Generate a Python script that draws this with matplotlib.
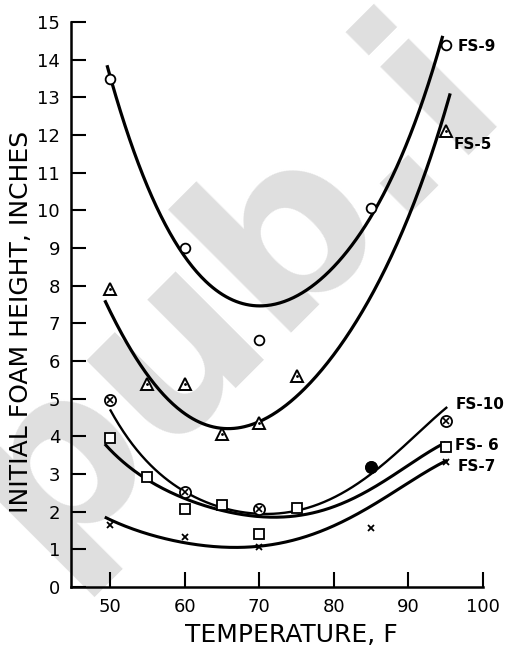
"""Initial foam height vs temperature for five foam samples (FS-5 ... FS-10)."""
import numpy as np
import matplotlib
matplotlib.use("Agg")
import matplotlib.pyplot as plt

plt.rcParams["font.family"] = ["DejaVu Sans"]

# measured points (temperature F, foam height in)
t_fs9 = [50, 60, 70, 85, 95]
h_fs9 = [13.5, 9.0, 6.55, 10.05, 14.4]
t_fs5 = [50, 55, 60, 65, 70, 75, 95]
h_fs5 = [7.9, 5.4, 5.4, 4.05, 4.35, 5.6, 12.1]
t_fs10 = [50, 60, 70, 85, 95]
h_fs10 = [4.97, 2.53, 2.07, 3.18, 4.4]
t_fs6 = [50, 55, 60, 65, 70, 75, 95]
h_fs6 = [3.95, 2.92, 2.07, 2.18, 1.41, 2.1, 3.72]
t_fs7 = [50, 60, 70, 85, 95]
h_fs7 = [1.65, 1.33, 1.06, 1.56, 3.32]

# hand-drawn trend curves
c9_t = [49.6, 50.9, 53.1, 55.4, 57.6, 59.8, 64.4, 69.7, 73.2, 77.8, 82.2, 86.6, 89.3, 91.2, 93.0, 94.6]
c9_h = [13.9, 12.9, 11.6, 10.45, 9.65, 8.75, 7.96, 7.35, 7.53, 8.22, 9.02, 10.34, 11.5, 12.57, 13.6, 14.6]
c5_t = [49.3, 51.7, 54, 56.3, 58.5, 60.7, 65.2, 68.4, 71.1, 74.2, 77.2, 81.8, 84.9, 88, 91.2, 93.4, 95.6]
c5_h = [7.67, 6.63, 5.84, 5.3, 4.88, 4.56, 4.3, 4.3, 4.43, 4.83, 5.4, 6.74, 7.88, 8.94, 10.26, 11.6, 13.2]
c10_t = [50, 50.7, 54, 57.1, 60.7, 65.2, 69.7, 72.8, 77.2, 81.8, 86.2, 90.7, 95.2]
c10_h = [4.75, 4.43, 3.55, 2.92, 2.49, 2.1, 1.91, 1.96, 2.17, 2.57, 3.18, 3.98, 4.78]
c6_t = [49.3, 51.7, 56.3, 60.7, 65.2, 69.7, 72.8, 77.2, 81.8, 86.2, 90.7, 95]
c6_h = [3.82, 3.29, 2.71, 2.31, 2.04, 1.86, 1.83, 1.96, 2.31, 2.76, 3.29, 3.85]
c7_t = [49.3, 54, 58.5, 63, 67.4, 72.4, 77.2, 81.8, 86.2, 90.7, 95.2]
c7_h = [1.86, 1.46, 1.25, 1.09, 1.06, 1.12, 1.43, 1.78, 2.31, 2.84, 3.37]

labels = ["FS-9", "FS-5", "FS-10", "FS- 6", "FS-7"]
label_pos = [(96.6, 14.35), (96.1, 11.75), (96.3, 4.85), (96.3, 3.75), (96.6, 3.2)]


def smooth(t, h, deg=5):
    # least-squares polynomial through the traced points, evens out tracing jitter
    p = np.polyfit(t, h, deg)
    xs = np.linspace(min(t), max(t), 300)
    return xs, np.polyval(p, xs)


fig = plt.figure(figsize=(5.1, 6.5), dpi=100)

# faint scan watermark behind everything
fig.text(0.992, 0.848, "pub.i", rotation=45, rotation_mode="anchor", ha="right", va="baseline",
         fontsize=165, fontweight="bold", color="#dfdfdf", zorder=0)

ax = fig.add_axes([0.1396, 0.0969, 0.8075, 0.8692])
ax.set_zorder(1)
ax.patch.set_alpha(0)

for ct, ch, lw in [(c9_t, c9_h, 2.3), (c5_t, c5_h, 2.3), (c10_t, c10_h, 1.7),
                   (c6_t, c6_h, 2.2), (c7_t, c7_h, 2.2)]:
    xs, ys = smooth(ct, ch)
    ax.plot(xs, ys, color="black", lw=lw, solid_capstyle="butt", zorder=2)

mk = dict(color="black", ls="none", zorder=3)
ax.plot(t_fs9, h_fs9, marker="o", ms=7, mfc="white", mew=1.3, **mk)
ax.plot(t_fs5, h_fs5, marker="^", ms=8, mfc="white", mew=1.4, **mk)
ax.plot(t_fs5, h_fs5, marker=".", ms=2, **mk)
ax.plot(t_fs10, h_fs10, marker="o", ms=8, mfc="white", mew=1.3, **mk)
ax.plot(t_fs10, h_fs10, marker="x", ms=5, mew=1.2, **mk)
ax.plot(t_fs10[3], h_fs10[3], marker="o", ms=8, mfc="black", **mk)
ax.plot(t_fs6, h_fs6, marker="s", ms=6.5, mfc="white", mew=1.3, **mk)
ax.plot(t_fs7, h_fs7, marker="x", ms=5, mew=1.3, **mk)

for txt, (x, y) in zip(labels, label_pos):
    ax.text(x, y, txt, ha="left", va="center", fontsize=11, fontweight="bold")

ax.set_xlim(44.8, 100)
ax.set_ylim(0, 15)
ax.set_xticks(range(50, 101, 10))
ax.set_yticks(range(0, 16))
ax.spines[["top", "right"]].set_visible(False)
for s in ("left", "bottom"):
    ax.spines[s].set_linewidth(1.8)
ax.tick_params(axis="x", direction="in", length=11, width=1.5, pad=8, labelsize=13)
ax.tick_params(axis="y", direction="in", length=11, width=1.5, pad=8, labelsize=13)

fig.text(0.042, 0.505, "INITIAL FOAM HEIGHT, INCHES", rotation=90, ha="center", va="center", fontsize=18)
fig.text(0.571, 0.023, "TEMPERATURE, F", ha="center", va="center", fontsize=18)

fig.savefig("out.png", dpi=100)
